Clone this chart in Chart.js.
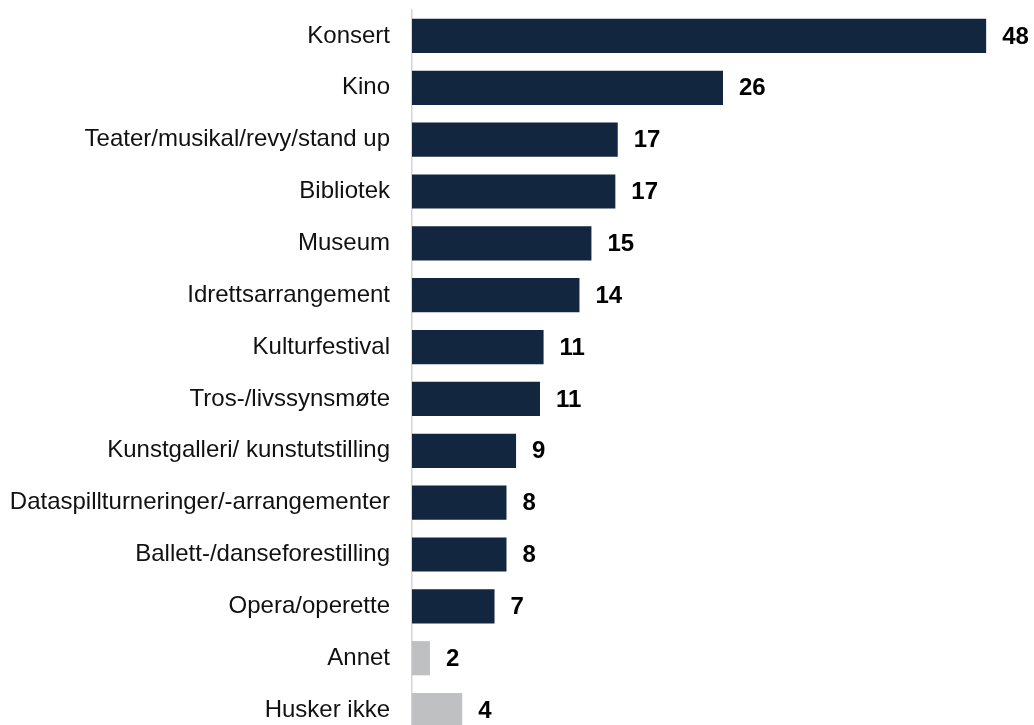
<!DOCTYPE html>
<html>
<head>
<meta charset="utf-8">
<script src="https://cdn.jsdelivr.net/npm/chart.js@4.4.0/dist/chart.umd.min.js"></script>
<style>
  html, body { margin: 0; padding: 0; background: #ffffff; overflow: hidden; }
  #wrap { position: relative; width: 1034px; height: 740px; }
</style>
</head>
<body>
<div id="wrap"><canvas id="c"></canvas></div>
<script>
const categories = [
  "Konsert",
  "Kino",
  "Teater/musikal/revy/stand up",
  "Bibliotek",
  "Museum",
  "Idrettsarrangement",
  "Kulturfestival",
  "Tros-/livssynsmøte",
  "Kunstgalleri/ kunstutstilling",
  "Dataspillturneringer/-arrangementer",
  "Ballett-/danseforestilling",
  "Opera/operette",
  "Annet",
  "Husker ikke"
];
const values = [48, 26, 17.2, 17.0, 15, 14, 11.0, 10.7, 8.7, 7.9, 7.9, 6.9, 1.5, 4.2];
const valueLabels = ["48", "26", "17", "17", "15", "14", "11", "11", "9", "8", "8", "7", "2", "4"];
const isOther = [false, false, false, false, false, false, false, false, false, false, false, false, true, true];

const NAVY = "#132640";
const GREY = "#bfc0c2";

const dataLabelPlugin = {
  id: "dataLabels",
  afterDatasetsDraw(chart) {
    const ctx = chart.ctx;
    const meta = chart.getDatasetMeta(0);
    ctx.save();
    ctx.font = "bold 24px 'Liberation Sans', Arial, sans-serif";
    ctx.fillStyle = "#000000";
    ctx.textAlign = "left";
    ctx.textBaseline = "middle";
    meta.data.forEach((bar, i) => {
      ctx.fillText(valueLabels[i], bar.x + 16, bar.y + 1);
    });
    ctx.restore();
  }
};

new Chart(document.getElementById("c"), {
  type: "bar",
  data: {
    labels: categories,
    datasets: [{
      data: values,
      backgroundColor: isOther.map(o => o ? GREY : NAVY),
      borderWidth: 0,
      barPercentage: 0.66,
      categoryPercentage: 1.0
    }]
  },
  options: {
    indexAxis: "y",
    responsive: true,
    maintainAspectRatio: false,
    animation: false,
    layout: { padding: { top: 10, bottom: 4, left: 0, right: 0 } },
    plugins: {
      legend: { display: false },
      tooltip: { enabled: false }
    },
    scales: {
      x: {
        display: false,
        min: 0,
        max: 52
      },
      y: {
        afterFit(scale) {
          scale.width = 412;
          scale.paddingTop = 0;
          scale.paddingBottom = 0;
        },
        grid: { display: false, drawTicks: false },
        border: { display: true, color: "#d4d4d4", width: 1.5 },
        ticks: {
          padding: 22,
          color: "#111111",
          font: { family: "'Liberation Sans', Arial, sans-serif", size: 24 }
        }
      }
    }
  },
  plugins: [dataLabelPlugin]
});
</script>
</body>
</html>
